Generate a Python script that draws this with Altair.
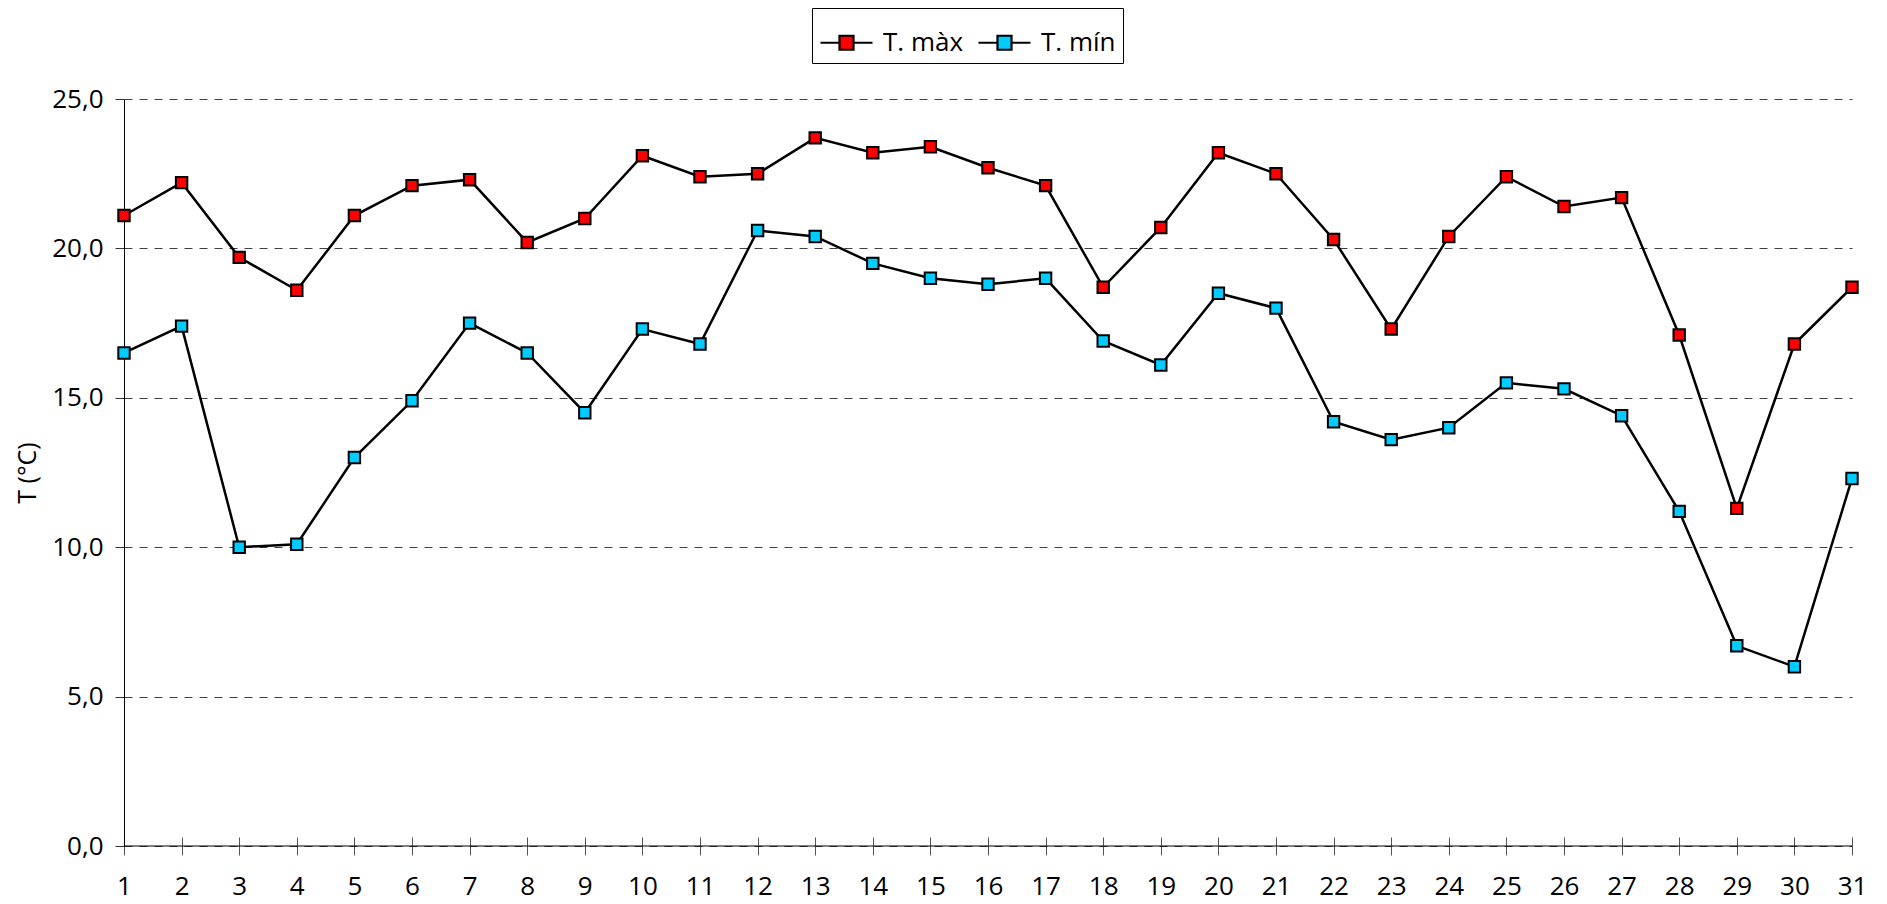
import altair as alt
import pandas as pd

days = list(range(1, 32))
tmax = [21.1, 22.2, 19.7, 18.6, 21.1, 22.1, 22.3, 20.2, 21.0, 23.1, 22.4, 22.5, 23.7, 23.2, 23.4, 22.7,
        22.1, 18.7, 20.7, 23.2, 22.5, 20.3, 17.3, 20.4, 22.4, 21.4, 21.7, 17.1, 11.3, 16.8, 18.7]
tmin = [16.5, 17.4, 10.0, 10.1, 13.0, 14.9, 17.5, 16.5, 14.5, 17.3, 16.8, 20.6, 20.4, 19.5, 19.0, 18.8,
        19.0, 16.9, 16.1, 18.5, 18.0, 14.2, 13.6, 14.0, 15.5, 15.3, 14.4, 11.2, 6.7, 6.0, 12.3]
series = ["T. màx", "T. mín"]
colors = ["#FF0000", "#00CCFF"]
y_ticks = [0, 5, 10, 15, 20, 25]

rows = []
for d, a, b in zip(days, tmax, tmin):
    rows.append({"day": d, "serie": series[0], "t": a})
    rows.append({"day": d, "serie": series[1], "t": b})
df = pd.DataFrame(rows)

FONT = "Open Sans"

x = alt.X("day:Q", scale=alt.Scale(domain=[1, 31], nice=False, zero=False),
          axis=alt.Axis(values=days, title=None, grid=False, domain=False, offset=-9,
                        tickSize=18, tickColor="#555555", tickWidth=1,
                        labelPadding=18, labelFontSize=26, labelColor="black",
                        labelFont=FONT, labelFlush=False))
y = alt.Y("t:Q", scale=alt.Scale(domain=[0, 25], nice=False),
          axis=alt.Axis(values=y_ticks, title="T (°C)", grid=True, gridDash=[8, 7],
                        gridColor="#404040", gridWidth=1, domain=True, domainColor="black",
                        domainWidth=1, tickSize=9, tickColor="#333333",
                        labelPadding=12, labelFontSize=26, labelColor="black", labelFont=FONT,
                        labelExpr="replace(format(datum.value, '.1f'), '.', ',')",
                        titleFont=FONT, titleFontSize=25, titleFontWeight="normal",
                        titleColor="black", titleAngle=270, titleBaseline="middle",
                        titleAlign="center", titleX=-97, titleY=373.5))

lines = alt.Chart(df).mark_line(color="black", strokeWidth=2.5).encode(
    x=x, y=y, detail="serie:N")

points = alt.Chart(df).mark_point(shape="square", filled=True, size=130, stroke="black",
                                  strokeWidth=2, opacity=1, fillOpacity=1).encode(
    x=x, y=y,
    fill=alt.Fill("serie:N", scale=alt.Scale(domain=series, range=colors),
                  legend=alt.Legend(title=None, orient="none", legendX=688, legendY=-91,
                                    direction="horizontal",
                                    symbolType="M-1,0H-0.27M0.27,0H1M-0.27,-0.27H0.27V0.27H-0.27Z",
                                    symbolSize=2704, symbolStrokeColor="black",
                                    symbolStrokeWidth=2.2, symbolOpacity=1,
                                    labelFont=FONT, labelFontSize=26, labelColor="black",
                                    labelOffset=9, columnPadding=10, padding=7,
                                    strokeColor="black", fillColor="white")))

zero_rule = alt.Chart(pd.DataFrame({"t": [0]})).mark_rule(color="black", strokeWidth=1).encode(
    y=alt.Y("t:Q"))

chart = alt.layer(lines, zero_rule, points).properties(
    width=1728, height=747,
    autosize=alt.AutoSizeParams(type="none"),
    padding={"left": 116, "top": 91, "right": 25, "bottom": 58},
).configure(font=FONT).configure_view(stroke=None)

chart.save("out.html", embed_options={"renderer": "svg", "actions": False})
